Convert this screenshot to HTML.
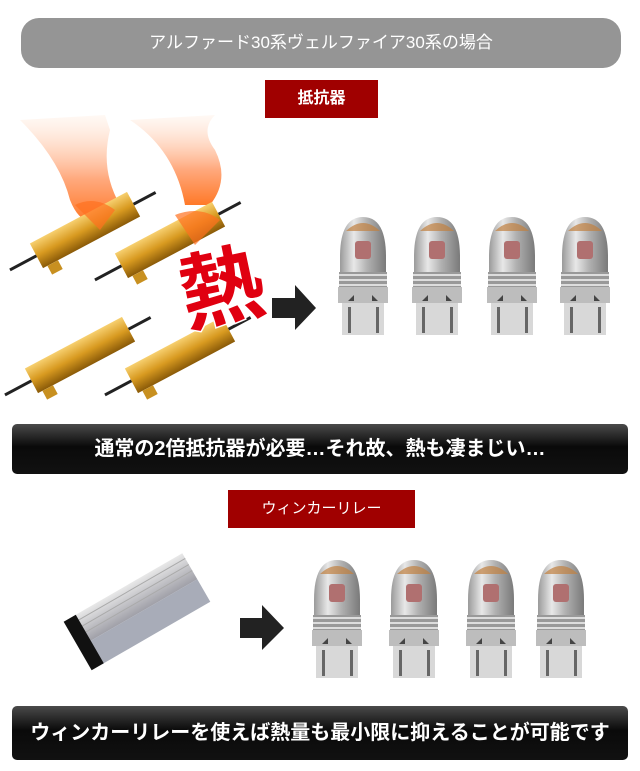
<!DOCTYPE html>
<html><head><meta charset="utf-8"><style>
html,body{margin:0;padding:0;background:#fff;}
body{width:640px;height:771px;position:relative;overflow:hidden;font-family:"Liberation Sans","Noto Sans CJK JP",sans-serif;}
.abs{position:absolute;}
.pill{left:21px;top:18px;width:600px;height:50px;border-radius:18px;background:#959595;color:#fff;font-size:17px;line-height:50px;text-align:center;}
.red{background:#a00000;color:#fff;text-align:center;font-weight:bold;}
.dark{background:linear-gradient(#4a4a4a,#0a0a0a 45%,#111);color:#fff;border-radius:5px;text-align:center;font-weight:bold;font-size:20px;}
</style></head><body>
<div class="abs pill">アルファード30系ヴェルファイア30系の場合</div>
<div class="abs red" style="left:265px;top:80px;width:113px;height:38px;line-height:38px;font-size:16px;">抵抗器</div>

<svg class="abs" style="left:0;top:0" width="640" height="771">
<defs>
<linearGradient id="fl" x1="0" y1="0" x2="0" y2="1"><stop offset="0" stop-color="#ffe8d8" stop-opacity="0.3"/><stop offset="0.6" stop-color="#ffa070"/><stop offset="1" stop-color="#ff6a10"/></linearGradient>
<linearGradient id="gold" x1="0" y1="0" x2="0" y2="1"><stop offset="0" stop-color="#f7d070"/><stop offset="0.5" stop-color="#d89a20"/><stop offset="1" stop-color="#8a5a08"/></linearGradient>
<linearGradient id="sil" x1="0" y1="0" x2="1" y2="0"><stop offset="0" stop-color="#9a9a9a"/><stop offset="0.3" stop-color="#e8e8e8"/><stop offset="0.6" stop-color="#b0b0b0"/><stop offset="1" stop-color="#7a7a7a"/></linearGradient>
<linearGradient id="alu" x1="0" y1="0" x2="0" y2="1"><stop offset="0" stop-color="#e8e8e8"/><stop offset="1" stop-color="#a0a0a8"/></linearGradient>
<g id="bulb">
 <path d="M2 40 Q2 0 25 0 Q48 0 48 40 L48 55 L2 55 Z" fill="url(#sil)"/>
 <path d="M8 14 Q25 -2 42 14 Z" fill="#c08040" opacity="0.7"/>
 <rect x="17" y="24" width="16" height="18" rx="3" fill="#b07070"/>
 <rect x="1" y="55" width="48" height="15" fill="#999"/>
 <rect x="1" y="57" width="48" height="2" fill="#ddd"/><rect x="1" y="62" width="48" height="2" fill="#ddd"/><rect x="1" y="67" width="48" height="2" fill="#ddd"/>
 <rect x="0" y="70" width="50" height="16" fill="#bdbdbd"/>
 <path d="M10 84 l6 -6 l0 6z M40 84 l-6 -6 l0 6z" fill="#444"/>
 <rect x="4" y="86" width="42" height="32" fill="#d8d8d8"/>
 <rect x="10" y="90" width="3" height="26" fill="#666"/><rect x="38" y="90" width="3" height="26" fill="#666"/>
</g>
<g id="res">
 <rect x="-55" y="-14" width="110" height="28" fill="url(#gold)"/>
 <rect x="-50" y="14" width="12" height="10" fill="#c89020"/>
 <line x1="55" y1="0" x2="80" y2="0" stroke="#222" stroke-width="3"/>
 <line x1="-55" y1="0" x2="-85" y2="0" stroke="#222" stroke-width="3"/>
</g>
</defs>
<!-- flames -->
<path d="M20 120 Q60 160 70 200 Q80 225 95 220 L120 205 Q100 170 110 130 L105 115 Z" fill="url(#fl)" opacity="0.9"/>
<path d="M130 120 Q175 150 185 205 L210 205 Q230 180 215 150 Q200 130 215 115 Z" fill="url(#fl)" opacity="0.9"/>
<use href="#res" transform="translate(85,230) rotate(-28)"/>
<use href="#res" transform="translate(170,240) rotate(-28)"/>
<use href="#res" transform="translate(80,355) rotate(-28)"/>
<use href="#res" transform="translate(180,355) rotate(-28)"/>
<path d="M75 205 Q95 195 115 210 L100 230 Z" fill="#ff7020" opacity="0.7"/>
<path d="M175 215 Q200 205 220 220 L195 245 Z" fill="#ff7020" opacity="0.7"/>
<text x="222" y="318" font-size="84" font-weight="bold" text-anchor="middle" fill="#e00010" stroke="#fff" stroke-width="3" paint-order="stroke" transform="rotate(-12 222 290)" font-family="Noto Sans CJK JP,sans-serif">熱</text>
<!-- arrow 1 -->
<path d="M272 298 H295 V285 L316 308 L295 330 V318 H272 Z" fill="#222"/>
<use href="#bulb" x="338" y="217"/>
<use href="#bulb" x="412" y="217"/>
<use href="#bulb" x="487" y="217"/>
<use href="#bulb" x="560" y="217"/>
<!-- relay -->
<g transform="translate(140,610) rotate(-30)">
 <rect x="-60" y="-28" width="125" height="30" fill="url(#alu)"/>
 <g stroke="#aaa" stroke-width="1"><line x1="-60" y1="-22" x2="65" y2="-22"/><line x1="-60" y1="-15" x2="65" y2="-15"/><line x1="-60" y1="-8" x2="65" y2="-8"/></g>
 <rect x="-60" y="2" width="125" height="26" fill="#a8acb8"/>
 <rect x="-72" y="-28" width="14" height="56" fill="#111"/>
</g>
<path d="M240 618 H262 V605 L284 628 L262 650 V638 H240 Z" fill="#222"/>
<use href="#bulb" x="312" y="560"/>
<use href="#bulb" x="389" y="560"/>
<use href="#bulb" x="466" y="560"/>
<use href="#bulb" x="536" y="560"/>
</svg>

<div class="abs dark" style="left:12px;top:424px;width:616px;height:50px;line-height:50px;">通常の2倍抵抗器が必要…それ故、熱も凄まじい…</div>
<div class="abs red" style="left:228px;top:490px;width:187px;height:38px;line-height:38px;font-size:15px;font-weight:normal;">ウィンカーリレー</div>
<div class="abs dark" style="left:12px;top:706px;width:616px;height:54px;line-height:54px;">ウィンカーリレーを使えば熱量も最小限に抑えることが可能です</div>
</body></html>
